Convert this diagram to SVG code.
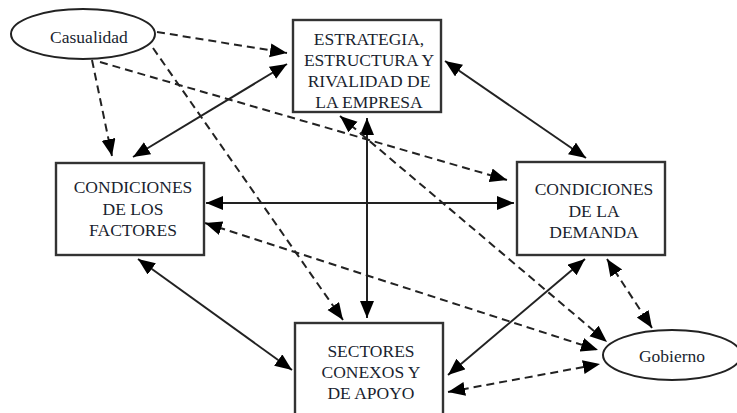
<svg xmlns="http://www.w3.org/2000/svg" width="737" height="413" viewBox="0 0 737 413">
<style>
.box{fill:#fff;stroke:#333;stroke-width:2.4}
.ell{fill:#fff;stroke:#222;stroke-width:2}
.t{font-family:"Liberation Serif","Times New Roman",serif;font-size:17.5px;fill:#1a1f30;text-anchor:middle}
.s{fill:none;stroke:#222;stroke-width:2}
.d{fill:none;stroke:#222;stroke-width:2;stroke-dasharray:8 5}
.one{marker-end:url(#ah)}
.two{marker-start:url(#ah);marker-end:url(#ah)}
</style>
<defs>
<marker id="ah" markerUnits="userSpaceOnUse" markerWidth="18" markerHeight="15" refX="17" refY="7" orient="auto-start-reverse">
<path d="M0,0 L17,7 L0,14 z" fill="#000"/>
</marker>
</defs>
<rect width="737" height="413" fill="#fff"/>
<g id="connectors">
<path class="d one" d="M157,32 L287,53"/>
<path class="d one" d="M92,60 L112,156"/>
<path class="d one" d="M153,48 L343,320"/>
<path class="d one" d="M100,62 L507,180"/>
<path class="s two" d="M287,64 L133,157"/>
<path class="s two" d="M445,61 L586,158"/>
<path class="s two" d="M367,118 L367,318"/>
<path class="s two" d="M206,203 L514,203"/>
<path class="s two" d="M138,259 L292,370"/>
<path class="s two" d="M448,375 L585,259"/>
<path class="d two" d="M340,116 L607,342"/>
<path class="d two" d="M205,223 L598,350"/>
<path class="d two" d="M448,392 L600,364"/>
<path class="d two" d="M607,259 L652,328"/>
</g>
<g id="casualidad">
<ellipse class="ell" cx="83" cy="34" rx="72" ry="25"/>
<text class="t" x="89" y="43">Casualidad</text>
</g>
<g id="estrategia">
<rect class="box" x="293" y="20" width="148" height="92"/>
<text class="t" x="369" y="45">ESTRATEGIA,</text>
<text class="t" x="369" y="66">ESTRUCTURA Y</text>
<text class="t" x="369" y="87">RIVALIDAD DE</text>
<text class="t" x="369" y="108">LA EMPRESA</text>
</g>
<g id="factores">
<rect class="box" x="56" y="163" width="148" height="92"/>
<text class="t" x="133" y="193">CONDICIONES</text>
<text class="t" x="133" y="215">DE LOS</text>
<text class="t" x="133" y="236">FACTORES</text>
</g>
<g id="demanda">
<rect class="box" x="517" y="162" width="148" height="93"/>
<text class="t" x="594" y="195">CONDICIONES</text>
<text class="t" x="594" y="217">DE LA</text>
<text class="t" x="594" y="238">DEMANDA</text>
</g>
<g id="sectores">
<rect class="box" x="295" y="323" width="148" height="100"/>
<text class="t" x="371" y="357">SECTORES</text>
<text class="t" x="371" y="378">CONEXOS Y</text>
<text class="t" x="371" y="399">DE APOYO</text>
</g>
<g id="gobierno">
<ellipse class="ell" cx="672" cy="355" rx="69" ry="25"/>
<text class="t" x="672" y="362">Gobierno</text>
</g>
</svg>
